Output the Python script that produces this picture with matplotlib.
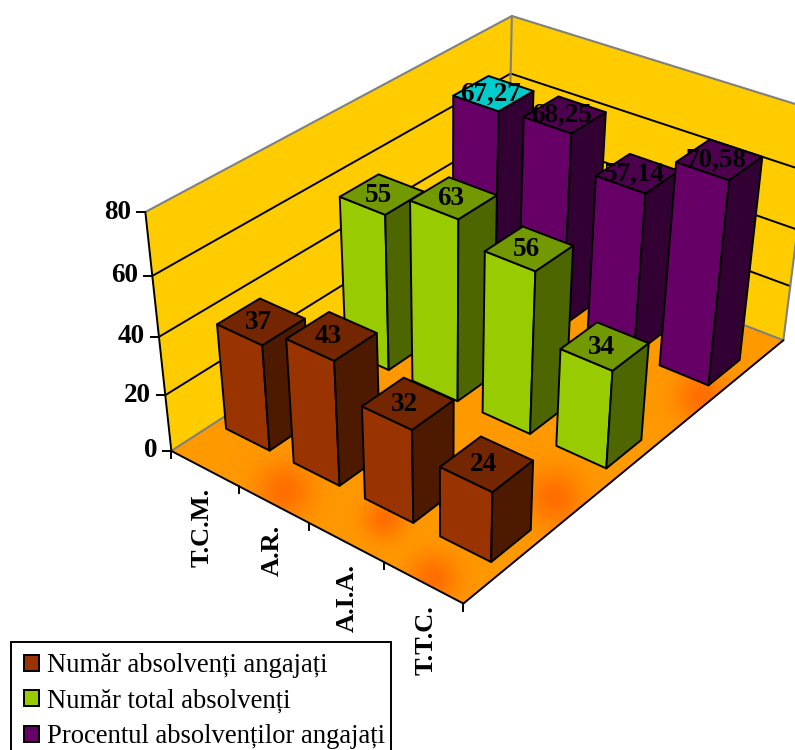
#!/usr/bin/env python3
import numpy as np
import matplotlib
matplotlib.use('Agg')
import matplotlib.pyplot as plt
from matplotlib.patches import Patch, Polygon, Rectangle

plt.rcParams['font.family'] = ['Liberation Serif', 'DejaVu Serif']

specializari = ['T.C.M.', 'A.R.', 'A.I.A.', 'T.T.C.']
serii = ['Număr absolvenți angajați', 'Număr total absolvenți', 'Procentul absolvenților angajați']
angajati = [37, 43, 32, 24]
total = [55, 63, 56, 34]
procent = [67.27, 68.25, 57.14, 70.58]
etichete_angajati = ['37', '43', '32', '24']
etichete_total = ['55', '63', '56', '34']
etichete_procent = ['67,27', '68,25', '57,14', '70,58']
y_ticks = [0, 20, 40, 60, 80]

# fata, capac, lateral
culori = [('#993300', '#732600', '#4d1a00'),
          ('#99cc00', '#739900', '#4d6600'),
          ('#660066', '#4d004d', '#330033')]

# camera: colturile cutiei (categorie, serie, valoare) -> pixeli din poza
puncte_3d = [(0, 0, 0), (4, 0, 0), (4, 3, 0), (0, 3, 0), (0, 0, 80), (0, 3, 80), (4, 3, 80),
             (0, 0, 40), (0, 3, 40), (4, 3, 40)]
puncte_px = [(171, 454), (462, 603), (783, 340), (510, 232), (147, 210), (508, 16), (817, 112),
             (159, 336), (509, 130), (795, 228)]


def calibreaza(p3, p2):
    rows = []
    for (x, y, z), (u, v) in zip(p3, p2):
        rows.append([x, y, z, 1, 0, 0, 0, 0, -u * x, -u * y, -u * z, -u])
        rows.append([0, 0, 0, 0, x, y, z, 1, -v * x, -v * y, -v * z, -v])
    return np.linalg.svd(np.array(rows, float))[2][-1].reshape(3, 4)


P = calibreaza(puncte_3d, puncte_px)


def proj(x, y, z):
    u, v, w = P @ np.array([x, y, z, 1.0])
    return u / w, v / w


fig = plt.figure(figsize=(7.95, 7.5), dpi=100)
ax = fig.add_axes([0, 0, 1, 1])
ax.set_xlim(0, 795)
ax.set_ylim(750, 0)
ax.set_axis_off()

LW = 1.4
FS = 19.5
zmax = y_ticks[-1]


def fata(puncte, culoare, z=2, lw=LW, edge='black'):
    ax.add_patch(Polygon([proj(*p) for p in puncte], closed=True, facecolor=culoare,
                         edgecolor=edge, lw=lw, zorder=z, joinstyle='round'))


def linie(a, b, culoare='black', lw=LW, z=3):
    pa, pb = proj(*a), proj(*b)
    ax.plot([pa[0], pb[0]], [pa[1], pb[1]], color=culoare, lw=lw, zorder=z, solid_capstyle='round')


# pereti
fata([(0, 0, 0), (0, 3, 0), (0, 3, zmax), (0, 0, zmax)], '#ffcc00', z=1, edge='none')
fata([(0, 3, 0), (4, 3, 0), (4, 3, zmax), (0, 3, zmax)], '#ffcc00', z=1, edge='none')

# podea cu pete mai inchise
podea = Polygon([proj(0, 0, 0), proj(4, 0, 0), proj(4, 3, 0), proj(0, 3, 0)], closed=True,
                facecolor='#ff9900', edgecolor='none', zorder=1.1)
ax.add_patch(podea)
yy, xx = np.mgrid[0:750:4, 0:795:4]
strat = np.zeros(xx.shape)
for cx, cy, r in [(283, 490, 20), (383, 518, 15), (432, 578, 18), (553, 497, 20), (700, 396, 18)]:
    strat = np.maximum(strat, np.exp(-((xx - cx) ** 2 + (yy - cy) ** 2) / (2 * r ** 2)))
rgba = np.zeros(xx.shape + (4,))
rgba[..., 0] = 1.0
rgba[..., 1] = 0.4
rgba[..., 3] = strat * 0.85
im = ax.imshow(rgba, extent=(0, 795, 750, 0), zorder=1.2, interpolation='bilinear', aspect='auto')
im.set_clip_path(podea)

# grila
for t in y_ticks[1:-1]:
    linie((0, 0, t), (0, 3, t), z=1.5)
    linie((0, 3, t), (4, 3, t), z=1.5)

# muchii gri + negre ale cutiei
GRI = '#808080'
linie((0, 0, zmax), (0, 3, zmax), GRI, 1.5, z=1.6)
linie((0, 3, zmax), (4, 3, zmax), GRI, 1.5, z=1.6)
linie((0, 3, 0), (0, 3, zmax), GRI, 1.5, z=1.6)
linie((4, 3, 0), (4, 3, zmax), GRI, 1.5, z=1.6)
linie((0, 0, 0), (0, 3, 0), GRI, 1.5, z=1.6)
linie((0, 3, 0), (4, 3, 0), GRI, 1.5, z=1.6)
linie((0, 0, 0), (0, 0, zmax), z=1.7)
linie((0, 0, 0), (4, 0, 0), z=1.7)
linie((4, 0, 0), (4, 3, 0), z=1.7)

# marcaje axe
for t in y_ticks:
    u, v = proj(0, 0, t)
    ax.plot([u - 8, u], [v, v], color='black', lw=LW, zorder=1.7)
    ax.text(u - 14, v, str(t), ha='right', va='center', fontsize=FS, fontweight='bold')
for i in range(5):
    u, v = proj(i, 0, 0)
    ax.plot([u, u], [v, v + 7], color='black', lw=LW, zorder=1.7)
    if i > 0:
        ax.text(u - 37, v + 2, specializari[i - 1], rotation=90, ha='center', va='top',
                fontsize=19, fontweight='bold')

# barele, din spate spre fata
latime_x = 0.65
latime_y = 0.33
date = [angajati, total, procent]
etichete = [etichete_angajati, etichete_total, etichete_procent]
z = 2.0
for j in [2, 1, 0]:
    for i in range(4):
        v = date[j][i]
        x0, x1 = i + (1 - latime_x) / 2, i + (1 + latime_x) / 2
        y0, y1 = j + (1 - latime_y) / 2, j + (1 + latime_y) / 2
        fata_c, capac, lateral = culori[j]
        if j == 2 and i == 0:
            capac = '#00cccc'
        fata([(x0, y0, 0), (x1, y0, 0), (x1, y0, v), (x0, y0, v)], fata_c, z)
        fata([(x1, y0, 0), (x1, y1, 0), (x1, y1, v), (x1, y0, v)], lateral, z + 0.01)
        fata([(x0, y0, v), (x1, y0, v), (x1, y1, v), (x0, y1, v)], capac, z + 0.02)
        u, w = proj((x0 + x1) / 2, (y0 + y1) / 2, v)
        ax.text(u - 3, w + 1, etichete[j][i], ha='center', va='center', fontsize=FS,
                fontweight='bold', zorder=20)
        z += 0.1

# legenda, cu chenarul separat ca sa iasa din poza jos
ax.add_patch(Rectangle((11, 642), 380, 130, facecolor='white', edgecolor='black', lw=LW, zorder=29))
handles = [Patch(facecolor=culori[k][0], edgecolor='black', lw=LW) for k in range(3)]
leg = ax.legend(handles, serii, loc='upper left', bbox_to_anchor=(11, 640),
                bbox_transform=ax.transData, borderaxespad=0, fontsize=19.2, frameon=False,
                handlelength=0.56, handleheight=0.56, handletextpad=0.28, labelspacing=0.39,
                borderpad=0.5)
leg.set_zorder(30)

plt.savefig('out.png', dpi=100)
